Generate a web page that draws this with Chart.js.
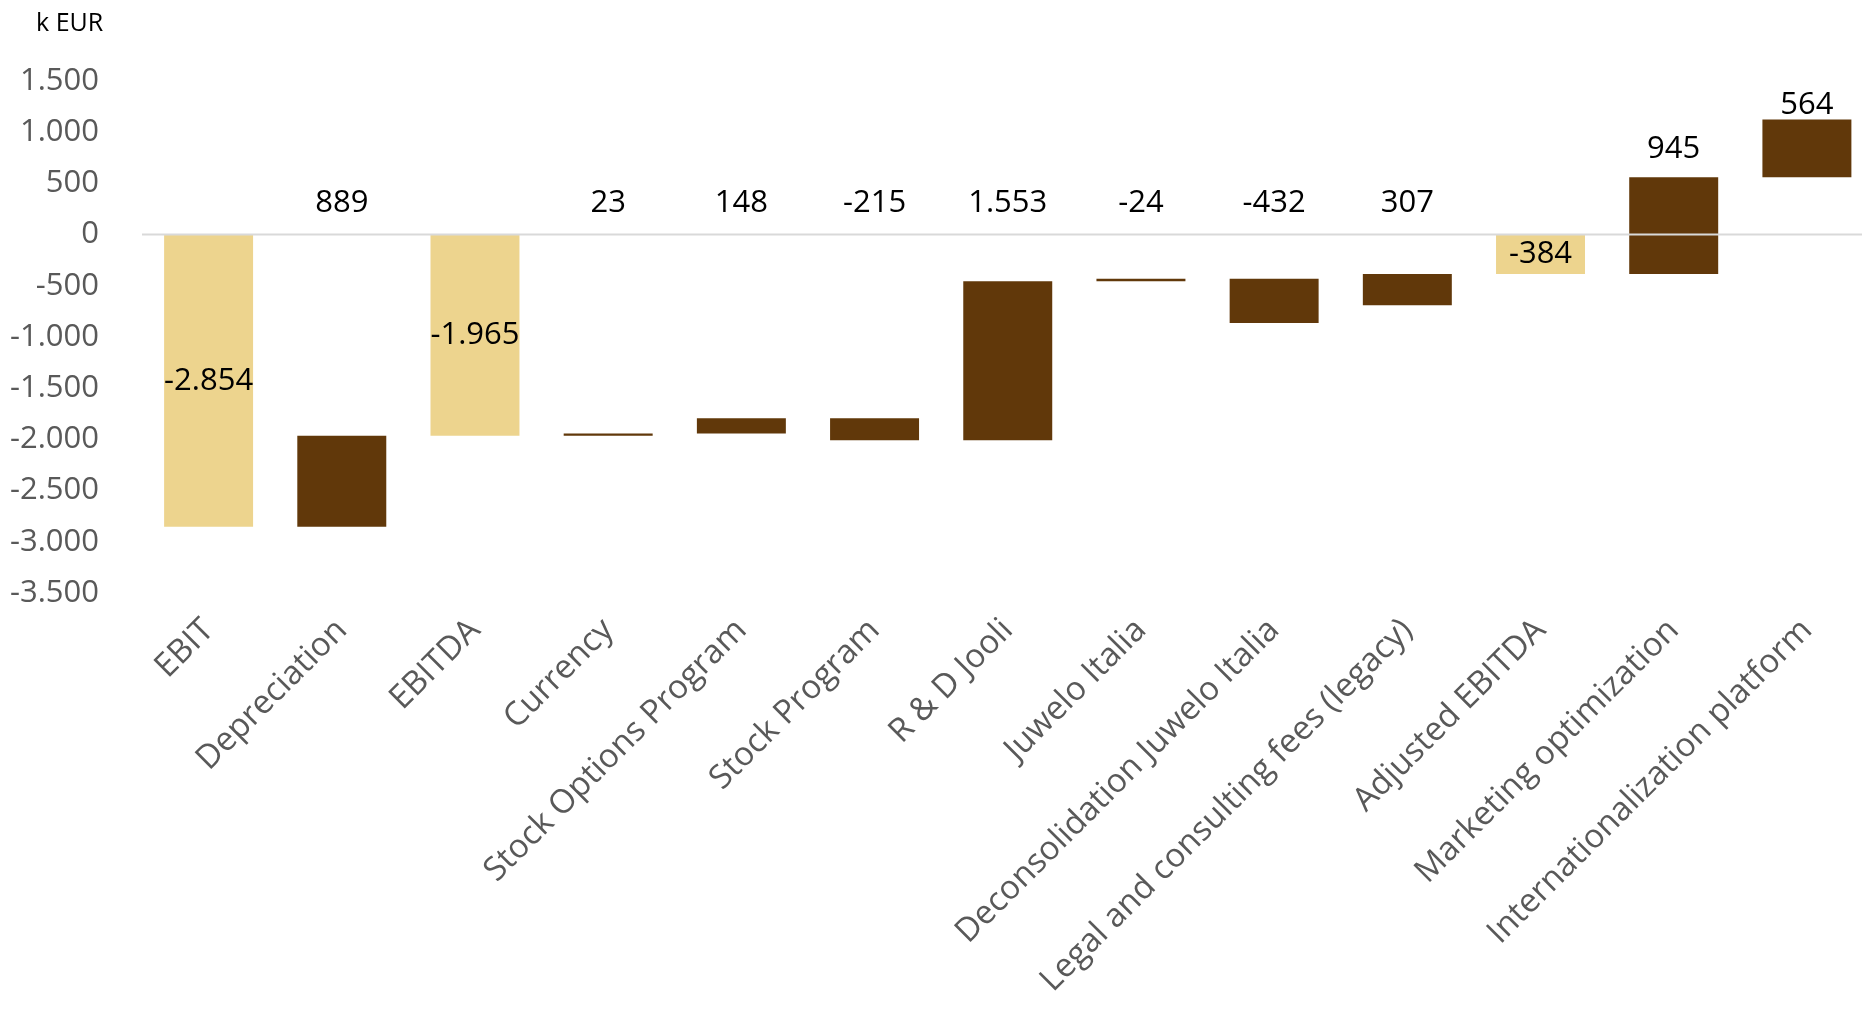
<!DOCTYPE html>
<html>
<head>
<meta charset="utf-8">
<script src="https://cdn.jsdelivr.net/npm/chart.js@4/dist/chart.umd.min.js"></script>
<style>
  html, body { margin: 0; padding: 0; background: #ffffff; overflow: hidden; }
  canvas { display: block; }
</style>
</head>
<body>
<canvas id="bridge" width="1862" height="1022"></canvas>
<script>
// EBIT to adjusted EBITDA bridge, in thousand EUR
const categories = [
  "EBIT", "Depreciation", "EBITDA", "Currency", "Stock Options Program",
  "Stock Program", "R & D Jooli", "Juwelo Italia", "Deconsolidation Juwelo Italia",
  "Legal and consulting fees (legacy)", "Adjusted EBITDA",
  "Marketing optimization", "Internationalization platform"
];
// value shown on each bar
const changes = [-2854, 889, -1965, 23, 148, -215, 1553, -24, -432, 307, -384, 945, 564];
// level each floating bar starts from
const starts  = [0, -2854, 0, -1965, -1942, -1794, -2009, -432, -432, -691, 0, -384, 561];
// subtotal bars start at zero and use the light colour
const isTotal = [true, false, true, false, false, false, false, false, false, false, true, false, false];
const yRange = { min: -3500, max: 1500, step: 500 };

const LIGHT = "#EDD48E";
const DARK = "#61380A";
const FONT = "'Open Sans', 'Noto Sans', sans-serif";
// the last category slot runs a little past the right edge of the canvas
const PLOT_RIGHT = 1873.5;

function fmt(v) {
  const s = Math.abs(Math.round(v)).toString().replace(/\B(?=(\d{3})+(?!\d))/g, ".");
  return (v < 0 ? "-" : "") + s;
}

const barData = starts.map((s, i) => [s, s + changes[i]]);

const widenPlot = {
  id: "widenPlot",
  afterLayout(chart) {
    const x = chart.scales.x;
    x.right = PLOT_RIGHT;
    x.width = x.right - x.left;
    x.configure();
    chart.chartArea.right = PLOT_RIGHT;
    chart.chartArea.width = PLOT_RIGHT - chart.chartArea.left;
  }
};

const labelPlugin = {
  id: "bridgeLabels",
  afterDatasetsDraw(chart) {
    const { ctx, chartArea } = chart;
    const y = chart.scales.y;
    const meta = chart.getDatasetMeta(0);
    const zeroY = y.getPixelForValue(0);

    // horizontal axis line at zero, drawn over the bars
    ctx.save();
    ctx.strokeStyle = "#D9D9D9";
    ctx.lineWidth = 2;
    ctx.beginPath();
    ctx.moveTo(chartArea.left, zeroY);
    ctx.lineTo(chartArea.right, zeroY);
    ctx.stroke();

    ctx.font = "31px " + FONT;
    ctx.fillStyle = "#000000";
    ctx.textAlign = "center";
    ctx.textBaseline = "middle";
    meta.data.forEach((bar, i) => {
      const lo = Math.min(barData[i][0], barData[i][1]);
      const hi = Math.max(barData[i][0], barData[i][1]);
      let ty;
      if (isTotal[i]) {
        ty = (y.getPixelForValue(lo) + y.getPixelForValue(hi)) / 2;
      } else if (hi > 0) {
        ty = Math.max(y.getPixelForValue(hi) - 28, chartArea.top + 24);
      } else {
        ty = zeroY - 31;
      }
      ctx.fillText(fmt(changes[i]), bar.x, ty);
    });

    // unit caption
    ctx.font = "25px " + FONT;
    ctx.textAlign = "left";
    ctx.fillText("k EUR", 36, 24);
    ctx.restore();
  }
};

new Chart(document.getElementById("bridge"), {
  type: "bar",
  data: {
    labels: categories,
    datasets: [{
      data: barData,
      backgroundColor: isTotal.map(t => t ? LIGHT : DARK),
      borderWidth: 0,
      categoryPercentage: 1,
      barPercentage: 0.668
    }]
  },
  options: {
    responsive: false,
    animation: false,
    devicePixelRatio: 1,
    layout: { padding: { left: 0, top: 81, right: 0, bottom: 0 } },
    plugins: { legend: { display: false }, tooltip: { enabled: false } },
    scales: {
      x: {
        grid: { display: false },
        border: { display: false },
        ticks: {
          color: "#595959",
          font: { family: FONT, size: 33 },
          minRotation: 45,
          maxRotation: 45,
          autoSkip: false,
          padding: 10
        },
        afterFit(scale) { scale.height = 429; }
      },
      y: {
        min: yRange.min,
        max: yRange.max,
        grid: { display: false },
        border: { display: false },
        ticks: {
          stepSize: yRange.step,
          color: "#595959",
          font: { family: FONT, size: 31 },
          padding: 35,
          callback: v => fmt(v)
        },
        afterFit(scale) { scale.width = 142; }
      }
    }
  },
  plugins: [widenPlot, labelPlugin]
});
</script>
</body>
</html>
